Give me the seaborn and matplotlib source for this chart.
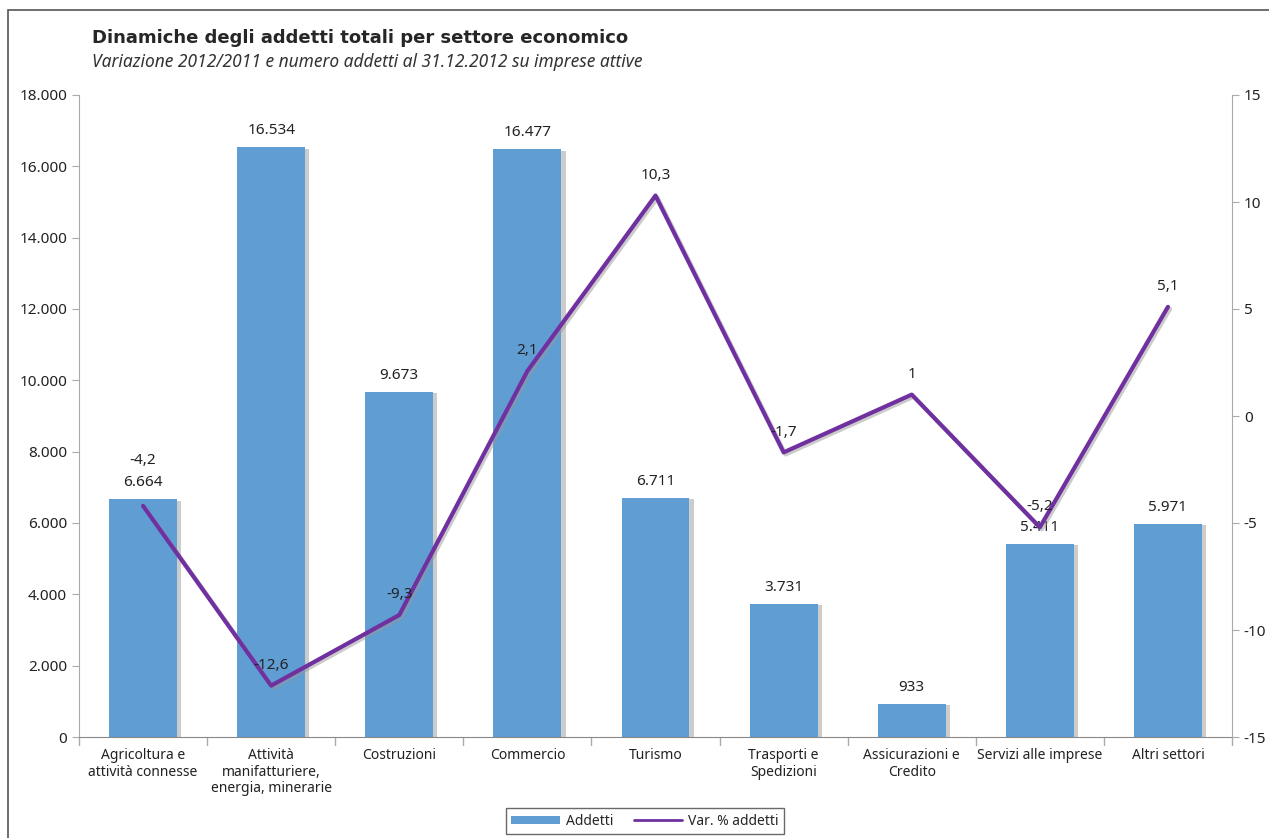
import matplotlib
matplotlib.use("Agg")
import matplotlib.pyplot as plt
import matplotlib.patheffects as pe
from matplotlib.patches import Rectangle, Patch
from matplotlib.lines import Line2D
import seaborn as sns
import pandas as pd
import numpy as np

categories = ["Agricoltura e\nattività connesse", "Attività\nmanifatturiere,\nenergia, minerarie",
              "Costruzioni", "Commercio", "Turismo", "Trasporti e\nSpedizioni",
              "Assicurazioni e\nCredito", "Servizi alle imprese", "Altri settori"]
addetti = [6664, 16534, 9673, 16477, 6711, 3731, 933, 5411, 5971]
var_pct = [-4.2, -12.6, -9.3, 2.1, 10.3, -1.7, 1.0, -5.2, 5.1]
left_ticks = [0, 2000, 4000, 6000, 8000, 10000, 12000, 14000, 16000, 18000]
right_ticks = [-15, -10, -5, 0, 5, 10, 15]

sns.set_style("white")
plt.rcParams["font.family"] = ["Noto Sans", "DejaVu Sans"]

def it_num(v):
    return f"{v:,.0f}".replace(",", ".")

def it_dec(v):
    if float(v).is_integer():
        return f"{int(v)}"
    return f"{v:.1f}".replace(".", ",")

df = pd.DataFrame({"Settore": categories, "Addetti": addetti, "Var": var_pct})

fig = plt.figure(figsize=(12.69, 8.38), dpi=100)
ax = fig.add_axes([79/1269, 1-737/838, (1232-79)/1269, (737-95)/838])

bar_color = "#5F9DD3"
sns.barplot(data=df, x="Settore", y="Addetti", color=bar_color, width=0.53,
            saturation=1, ax=ax, edgecolor="none")
for p in ax.patches:
    p.set_path_effects([pe.SimplePatchShadow(offset=(3, -1), shadow_rgbFace="#9a9a9a", alpha=0.5),
                        pe.Normal()])
for p, v in zip(ax.patches, addetti):
    ax.text(p.get_x() + p.get_width()/2, v + 250, it_num(v), ha="center", va="bottom",
            fontsize=11, color="#222222")

ax.set_ylim(0, 18000)
ax.set_yticks(left_ticks)
ax.set_yticklabels([it_num(t) for t in left_ticks], fontsize=11)
ax.set_xlim(-0.5, len(categories)-0.5)
ax.set_xlabel("")
ax.set_ylabel("")
ax.set_xticks(range(len(categories)))
ax.set_xticklabels(categories, fontsize=10, color="#222222", linespacing=1.15)
ax.tick_params(axis="x", length=0, pad=8)
ax.tick_params(axis="y", length=5, direction="out", left=True, colors="#222222", color="#aaaaaa")
for x in np.arange(-0.5, len(categories), 1.0):
    ax.plot([x, x], [0, -0.012], transform=ax.get_xaxis_transform(), color="#aaaaaa",
            lw=1, clip_on=False)
for s in ["top", "right"]:
    ax.spines[s].set_visible(False)
ax.spines["left"].set_color("#aaaaaa")
ax.spines["bottom"].set_color("#888888")

ax2 = ax.twinx()
xs = np.arange(len(categories))
sns.lineplot(x=xs, y=var_pct, ax=ax2, color="#7030A0", lw=3, legend=False,
             path_effects=[pe.SimpleLineShadow(offset=(1.5, -1.5), shadow_color="#999999", alpha=0.5), pe.Normal()])
ax2.set_ylim(-15, 15)
ax2.set_yticks(right_ticks)
ax2.set_yticklabels([str(t) for t in right_ticks], fontsize=11)
ax2.tick_params(axis="y", length=5, direction="out", right=True, colors="#222222", color="#aaaaaa")
for s in ["top", "left", "bottom"]:
    ax2.spines[s].set_visible(False)
ax2.spines["right"].set_color("#aaaaaa")
for i, (x, v) in enumerate(zip(xs, var_pct)):
    dy = 1.75 if i == 0 else 0.6
    ax2.text(x, v + dy, it_dec(v), ha="center", va="bottom", fontsize=11, color="#222222")

fig.text(92/1269, 1-38/838, "Dinamiche degli addetti totali per settore economico",
         fontsize=13, fontweight="bold", va="center", ha="left",
         family=["DejaVu Sans"])
fig.text(92/1269, 1-62/838, "Variazione 2012/2011 e numero addetti al 31.12.2012 su imprese attive",
         fontsize=12.5, style="italic", va="center", ha="left", color="#333333")

fig.add_artist(Rectangle((8/1269, -0.05), 1.2, 1-10/838+0.05, transform=fig.transFigure,
                         fill=False, edgecolor="#555555", lw=1.2))

handles = [Patch(facecolor=bar_color, edgecolor="none"),
           Line2D([0], [0], color="#7030A0", lw=2)]
leg = fig.legend(handles, ["Addetti", "Var. % addetti"], loc="center",
                 bbox_to_anchor=(645/1269, 1-821/838), ncol=2, frameon=True,
                 fontsize=10, fancybox=False, handlelength=3.5, handleheight=0.5,
                 columnspacing=1.5, borderpad=0.4, handletextpad=0.4)
leg.get_frame().set_edgecolor("#444444")
leg.get_frame().set_linewidth(1)

fig.savefig("out.png", dpi=100)
